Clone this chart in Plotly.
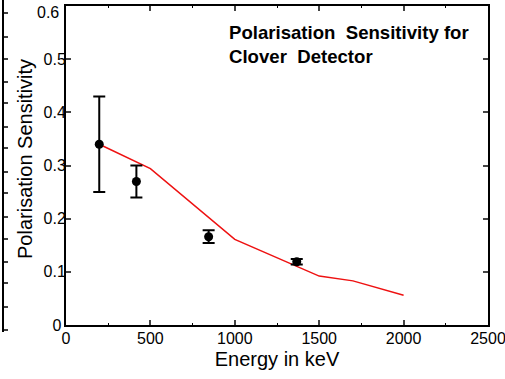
import plotly.graph_objects as go

# Measured data points
energy_pts = [197, 417, 845, 1367]
sens_pts = [0.34, 0.27, 0.166, 0.119]
sens_err = [0.09, 0.03, 0.012, 0.005]

# Simulated curve (red)
energy_sim = [197, 500, 1000, 1500, 1700, 2000]
sens_sim = [0.34, 0.294, 0.161, 0.092, 0.083, 0.056]

x_ticks = [0, 500, 1000, 1500, 2000, 2500]
y_ticks = [0, 0.1, 0.2, 0.3, 0.4, 0.5, 0.6]
y_tick_labels = ["0&nbsp;", "0.1", "0.2", "0.3", "0.4", "0.5", ""]
y_top_label = "0.6"

# Cropped neighbouring axis at far left (decoration), in pixel rows
left_deco_ticks_px = [13, 37, 59, 82, 103, 127, 148, 172, 193, 217, 239, 262, 283, 307, 330]

FONT = "Liberation Sans, Arial, Helvetica, sans-serif"

fig = go.Figure()
fig.add_trace(go.Scatter(
    x=energy_sim, y=sens_sim, mode="lines",
    line=dict(color="#ee1111", width=1.5), showlegend=False))
fig.add_trace(go.Scatter(
    x=energy_pts, y=sens_pts, mode="markers",
    marker=dict(color="black", size=9),
    error_y=dict(type="data", array=sens_err, color="black", thickness=2, width=6),
    showlegend=False))

W, H = 505, 379
L, R, T, B = 66, 17, 6, 54
pw, ph = W - L - R, H - T - B

shapes = []
def px_to_paper(xp, yp):
    return (xp - L) / pw, (H - B - yp) / ph

x0, y0 = px_to_paper(3, 0)
x1, y1 = px_to_paper(3, 332)
shapes.append(dict(type="line", xref="paper", yref="paper", x0=x0, x1=x1, y0=y0, y1=y1,
                   line=dict(color="black", width=2)))
for yp in left_deco_ticks_px:
    a, b = px_to_paper(3, yp)
    c, _ = px_to_paper(8, yp)
    shapes.append(dict(type="line", xref="paper", yref="paper", x0=a, x1=c, y0=b, y1=b,
                       line=dict(color="black", width=1.5)))

ytx, yty = px_to_paper(25, 159)
top_x, top_y = px_to_paper(61, 12.5)

fig.update_layout(
    width=W, height=H,
    margin=dict(l=L, r=R, t=T, b=B, autoexpand=False),
    paper_bgcolor="white", plot_bgcolor="white",
    font=dict(family=FONT, color="black", size=15),
    shapes=shapes,
    xaxis=dict(range=[0, 2500], tickvals=x_ticks, ticks="inside", ticklen=5, tickwidth=2,
               showline=True, linecolor="black", linewidth=2, mirror="ticks",
               showgrid=False, zeroline=False, ticklabeloverflow="allow",
               ticklabelstandoff=-2, automargin=False,
               minor=dict(dtick=250, ticks="inside", ticklen=2, tickwidth=1, tickcolor="black"),
               tickfont=dict(size=16),
               title=dict(text="Energy in keV", font=dict(size=20), standoff=6)),
    yaxis=dict(range=[0, 0.6], tickvals=y_ticks, ticktext=y_tick_labels,
               ticks="inside", ticklen=5, tickwidth=2,
               showline=True, linecolor="black", linewidth=2, mirror="ticks",
               showgrid=False, zeroline=False, tickfont=dict(size=16),
               ticklabeloverflow="allow", ticklabelstandoff=-5, automargin=False),
    annotations=[
        dict(text="<b>Polarisation  Sensitivity for<br>Clover  Detector</b>",
             xref="paper", yref="paper", x=(227 - L) / pw, y=(H - B - 20) / ph,
             xanchor="left", yanchor="top", align="left", showarrow=False,
             font=dict(size=18.6, family=FONT)),
        dict(text="Polarisation Sensitivity", textangle=-90,
             xref="paper", yref="paper", x=ytx, y=yty,
             xanchor="center", yanchor="middle", showarrow=False,
             font=dict(size=20, family=FONT)),
        dict(text=y_top_label, xref="paper", yref="paper", x=top_x, y=top_y,
             xanchor="right", yanchor="middle", showarrow=False,
             font=dict(size=16, family=FONT)),
    ],
)

fig.write_html("out.html")
